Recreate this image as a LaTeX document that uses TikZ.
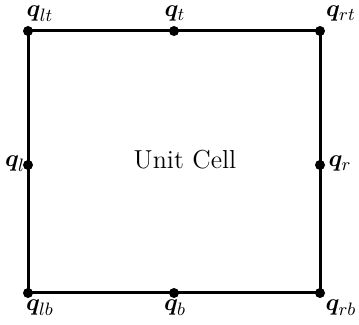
\documentclass[tikz,border=0pt]{standalone}
\usepackage{amsmath,bm}
\usetikzlibrary{positioning}
\tikzset{
  pt/.style={circle, fill=black, inner sep=0pt, minimum size=5pt},
  edge/.style={line width=1.5pt},
  lbl/.style={inner sep=1pt, font=\fontsize{13}{15}\selectfont}
}

\begin{document}
\begin{tikzpicture}[x=0.5pt, y=-0.5pt]
  \useasboundingbox (0,0) rectangle (359,325);
  % corners and mid points
  \node[pt] (lt) at (28,31) {};
  \node[pt] (t)  at (174,31) {};
  \node[pt] (rt) at (320,31) {};
  \node[pt] (l)  at (28,165) {};
  \node[pt] (r)  at (320,165) {};
  \node[pt] (lb) at (28,293) {};
  \node[pt] (b)  at (174,293) {};
  \node[pt] (rb) at (320,293) {};
  \draw[edge] (lt.center) -- (t.center) -- (rt.center) -- (r.center) -- (rb.center)
    -- (b.center) -- (lb.center) -- (l.center) -- cycle;
  % labels
  \node[lbl] (Llt) at (40,14)  {$\bm{q}_{lt}$};
  \node[lbl] (Lt)  at (175,14) {$\bm{q}_{t}$};
  \node[lbl] (Lrt) at (341,14) {$\bm{q}_{rt}$};
  \node[lbl] (Ll)  at (15,164) {$\bm{q}_{l}$};
  \node[lbl] (Lr)  at (340,164) {$\bm{q}_{r}$};
  \node[lbl] (Llb) at (40,308) {$\bm{q}_{lb}$};
  \node[lbl] (Lb)  at (175,308) {$\bm{q}_{b}$};
  \node[lbl] (Lrb) at (341,308) {$\bm{q}_{rb}$};
  \node[lbl] (cell) at (185,160) {Unit Cell};
\end{tikzpicture}
\end{document}
